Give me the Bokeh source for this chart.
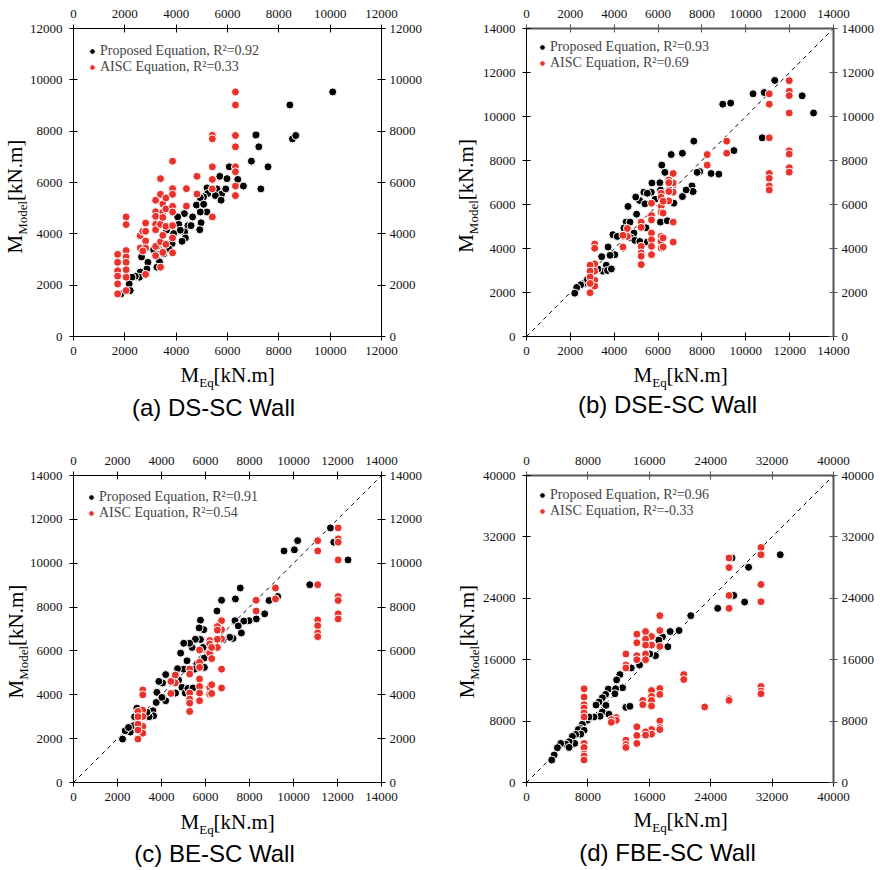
import math
from bokeh.plotting import figure
from bokeh.models import (Range1d, LinearAxis, FixedTicker, Legend,
                          LegendItem, BasicTickFormatter)
from bokeh.core.properties import value
from bokeh.layouts import row, column
from bokeh.embed import file_html
from bokeh.resources import INLINE

# ---------------- data (kN.m) ----------------
a_ticks = [0, 2000, 4000, 6000, 8000, 10000, 12000]
bc_ticks = [0, 2000, 4000, 6000, 8000, 10000, 12000, 14000]
d_ticks = [0, 8000, 16000, 24000, 32000, 40000]

a_prop = [(10100, 9530), (8430, 9020), (8530, 7700), (8660, 7830), (7110, 7850), (7220, 7390),
          (6930, 6830), (7580, 6610), (7300, 5750), (6070, 6610), (6620, 5860), (6400, 6120),
          (5700, 6240), (5980, 6150), (5590, 5750), (5770, 5550), (5530, 5490), (5750, 5310),
          (5930, 5750), (5200, 5790), (5230, 5570), (5070, 5440), (4940, 5410), (4790, 5120),
          (5070, 5150), (5200, 4850), (4940, 4850), (4970, 4430), (4920, 4160), (4640, 4660),
          (4460, 4320), (4320, 4790), (4580, 4320), (4330, 4070), (4360, 3840), (4230, 3710),
          (4060, 4660), (4100, 4370), (4160, 4140), (3900, 4010), (3840, 3620), (3710, 3420),
          (3620, 4140), (3510, 3220), (3380, 3350), (3250, 3490), (3120, 3380), (3350, 2910),
          (3250, 2700), (2900, 2890), (2860, 2630), (2650, 3100), (2600, 2510), (2570, 2310),
          (2410, 2350), (2280, 2310), (2170, 2050), (2210, 1790), (1850, 1660)]
a_aisc = [(1720, 3200), (1720, 2890), (1720, 2560), (1720, 2350), (1720, 2050), (1720, 1660),
          (2050, 4660), (2050, 4360), (2050, 3350), (2050, 3100), (2050, 2890), (2050, 2600),
          (2050, 2310), (2050, 1790), (2600, 3930), (2700, 4100), (2810, 4420), (2810, 4100),
          (2810, 3720), (2600, 3450), (2810, 3450), (2700, 3330), (2810, 2420),
          (3200, 5310), (3200, 4860), (3200, 4680), (3200, 4370), (3200, 4160), (3200, 3510),
          (3200, 3150), (3390, 6150), (3390, 5540), (3390, 4370), (3390, 3690), (3390, 2700),
          (3480, 5160), (3480, 4840), (3480, 4640), (3480, 3940), (3480, 3280),
          (3600, 5400), (3600, 4970), (3600, 4290), (3600, 3590),
          (3860, 6830), (3860, 5760), (3860, 5540), (3860, 5070), (3860, 4850), (3860, 4320),
          (3860, 3840), (3860, 3260), (4400, 5760), (4400, 5080), (4810, 6240), (4810, 5550),
          (5410, 7840), (5410, 7700), (5410, 6610), (5410, 6120), (5410, 5750), (5410, 4660),
          (6310, 9530), (6310, 9020), (6310, 7830), (6310, 7390), (6310, 6610), (6310, 6420),
          (6310, 5860), (6310, 5490)]

b_prop = [(11320, 11640), (10330, 11030), (10840, 11090), (12570, 10940), (13090, 10160),
          (8950, 10560), (9310, 10610), (10750, 9030), (9460, 8450), (7630, 8880), (7110, 8330),
          (6600, 8270), (6170, 7790), (6310, 7460), (7900, 7500), (7780, 7460), (8420, 7410),
          (8770, 7380), (7550, 6840), (7600, 6590), (7280, 6660), (7110, 6360), (6720, 6060),
          (6510, 6660), (6460, 7110), (6080, 6990), (6110, 6650), (5720, 6980), (5690, 6560),
          (5870, 6240), (5350, 6560), (5510, 6510), (5160, 6180), (4980, 6340), (5400, 6030),
          (5020, 5560), (4630, 5910), (4540, 5200), (4720, 5200), (4440, 4930), (4900, 4700),
          (4750, 4490), (4940, 4370), (5170, 4320), (5510, 4290), (5450, 4940), (6110, 5200),
          (6420, 5260), (3940, 4630), (4140, 4550), (3720, 4070), (4030, 3720), (3810, 3690),
          (3430, 3630), (3640, 3240), (3490, 2970), (3690, 3000), (3870, 3070), (3260, 3070),
          (2620, 2410), (2470, 2350), (2290, 2230), (2200, 1970), (2780, 2590), (4410, 4020)]
b_aisc = [(11980, 11630), (11980, 11150), (11980, 10950), (11980, 10160), (11980, 8440),
          (11980, 8290), (11980, 7670), (11980, 7470),
          (11070, 11030), (11070, 10560), (11070, 9030), (11070, 7410), (11070, 7190),
          (11070, 6840), (11070, 6660), (9130, 8880), (9130, 8330), (8240, 8270), (8240, 7790),
          (6690, 7410), (6690, 6980), (6690, 6560), (6690, 5200), (6690, 4290),
          (6490, 7110), (6490, 6990), (6490, 6590), (6490, 6160),
          (6140, 6510), (6140, 6330), (6140, 5910), (6140, 5650), (6140, 4550), (6140, 4320),
          (6140, 4020), (6230, 6150), (6230, 5610), (6230, 4480), (6230, 4070),
          (5700, 6060), (5700, 5500), (5700, 5300), (5700, 4700), (5700, 4400), (5700, 4100),
          (5700, 3720), (5230, 5200), (5230, 4960), (5230, 4100), (5230, 3800), (5230, 3650),
          (5230, 3270), (4600, 4910), (4600, 4550), (4400, 4600), (4400, 4070),
          (3110, 4200), (3110, 4010), (3110, 3300), (3110, 2970), (3110, 2560), (3110, 2290),
          (2900, 3240), (2900, 2970), (2900, 2700), (2900, 2410), (2900, 1990)]

c_prop = [(11680, 11610), (10190, 11030), (10040, 10610), (9570, 10560), (11830, 10960),
          (12480, 10150), (10740, 9020), (9280, 8480), (8890, 8300), (7580, 8870), (7360, 8370),
          (6730, 8310), (6520, 7820), (8690, 7690), (8310, 7460), (7980, 7380), (7740, 7360),
          (7340, 7380), (7490, 7140), (7630, 6820), (7250, 6570), (7100, 6620), (6800, 6510),
          (5920, 6970), (5770, 7400), (5710, 7050), (5770, 6520), (5540, 6530), (5890, 6160),
          (5390, 6160), (5280, 6350), (5010, 6350), (4870, 5900), (5160, 5550), (5950, 5680),
          (5950, 5250), (5610, 5400), (5510, 5170), (5010, 5170), (4730, 5190), (4550, 4720),
          (4780, 4670), (4930, 4340), (5080, 4080), (5200, 4290), (5430, 4310), (4640, 4080),
          (4190, 4920), (4050, 4540), (3880, 4610), (3790, 4110), (3760, 3650), (4190, 3730),
          (4020, 3880), (3610, 3270), (3640, 3040), (3440, 3000), (3340, 3200), (3110, 3200),
          (2880, 3390), (2780, 3000), (2730, 2590), (2580, 2300), (2350, 2360), (2500, 2510),
          (2230, 1980)]
c_aisc = [(12030, 11610), (12030, 11110), (12030, 10960), (12030, 10150), (12030, 8480),
          (12030, 8300), (12030, 7690), (12030, 7460),
          (11100, 11030), (11100, 10560), (11100, 9020), (11100, 7410), (11100, 7150),
          (11100, 6820), (11100, 6650), (9180, 8870), (9180, 8370), (8300, 8310), (8300, 7820),
          (6730, 7380), (6730, 6970), (6730, 6550), (6730, 5170), (6730, 4310),
          (6540, 7110), (6540, 6950), (6540, 6530), (6540, 6160),
          (6190, 6470), (6190, 6320), (6190, 5900), (6190, 4340), (6190, 4030),
          (6280, 6160), (6280, 5650), (6280, 4460), (6280, 4060),
          (5730, 6040), (5730, 5480), (5730, 5250), (5730, 4720), (5730, 4380), (5730, 4080),
          (5730, 3730), (5280, 5170), (5280, 4950), (5280, 4080), (5280, 3800), (5280, 3620),
          (5280, 3240), (4630, 4900), (4630, 4540), (4430, 4610), (4430, 4060),
          (3150, 4220), (3150, 4000), (3150, 3300), (3150, 3010), (3150, 2560), (3150, 2250),
          (2930, 3240), (2930, 3000), (2930, 2660), (2930, 2390), (2930, 1980)]

d_prop = [(33060, 29680), (28940, 28040), (26780, 29250), (27000, 24370), (28420, 23510),
          (24910, 22690), (21400, 21740), (19880, 19800), (18720, 19670), (17720, 18980),
          (17240, 18550), (18420, 17690), (16810, 16520), (16070, 16740), (15510, 15960),
          (14730, 15310), (13650, 14930), (12170, 14060), (11740, 13370), (12520, 12340),
          (10660, 12170), (11610, 12210), (11520, 11560), (10310, 11480), (9880, 11040),
          (9450, 10480), (9060, 10090), (10350, 10050), (9880, 9190), (9580, 8630),
          (10740, 8890), (8800, 8540), (12950, 9790), (13470, 9920), (7930, 8110),
          (7280, 7590), (7070, 7030), (6760, 6900), (7500, 6800), (7070, 6300), (6410, 6260),
          (5980, 6000), (6280, 5090), (5550, 5310), (5110, 5000), (5550, 4570), (4460, 5090),
          (4030, 4530), (3600, 3580), (3290, 2930), (8140, 8540)]
d_aisc = [(26390, 29250), (26390, 28000), (26390, 24370), (26390, 22690), (26390, 10910),
          (26390, 10700), (30550, 30630), (30550, 29680), (30550, 25800), (30550, 23550),
          (30550, 12510), (30550, 11910), (30550, 11560), (23220, 9840), (20490, 14060),
          (20490, 13420), (17370, 21740), (17370, 19800), (17370, 17730), (17370, 12250),
          (17370, 11480), (17370, 8020), (17370, 7160), (17370, 6900),
          (16290, 19020), (16290, 17900), (16290, 11990), (16290, 11220), (16290, 10700),
          (16290, 9960), (16290, 6900), (16290, 6300),
          (15510, 19670), (15510, 18680), (15510, 17900), (15510, 16740), (15510, 16000),
          (15510, 6600), (15510, 6170), (15160, 10700), (15160, 10140),
          (14380, 19330), (14380, 18210), (14380, 16520), (14380, 16000), (14380, 7250),
          (14380, 6130), (14380, 5090), (12950, 16740), (12950, 15310), (12950, 14930),
          (12950, 5520), (12950, 4960), (12950, 4570), (11700, 8460), (11700, 8110),
          (11050, 8200), (11050, 7850),
          (7500, 12210), (7500, 11130), (7500, 10140), (7500, 9710), (7500, 9060),
          (7500, 8540), (7500, 5090), (7500, 4570), (7500, 3710), (7500, 3450), (7500, 2930)]

a_r2 = ["0.92", "0.33"]
b_r2 = ["0.93", "0.69"]
c_r2 = ["0.91", "0.54"]
d_r2 = ["0.96", "-0.33"]

bc_diag = [0, 14000]
d_diag = [0, 40000]

titles = ["(a) DS-SC Wall", "(b) DSE-SC Wall", "(c) BE-SC Wall", "(d) FBE-SC Wall"]

# ---------------- styling ----------------
SERIF = "Liberation Serif"
SANS = "Liberation Sans"
RED = "#E8322B"
W, H = 440, 435
BASE_SHIFT = 0.32  # baseline compensation, in em


def unzip(pairs):
    return [q[0] for q in pairs], [q[1] for q in pairs]


def style_axis(ax, ticks, color, width, standoff):
    ax.ticker = FixedTicker(ticks=ticks, minor_ticks=[])
    ax.formatter = BasicTickFormatter(use_scientific=False)
    ax.major_tick_in = 4
    ax.major_tick_out = 4
    ax.minor_tick_in = 0
    ax.minor_tick_out = 0
    ax.axis_line_color = color
    ax.axis_line_width = width
    ax.major_tick_line_color = color
    ax.major_tick_line_width = 1
    ax.major_label_text_font = SERIF
    ax.major_label_text_font_size = "13px"
    ax.major_label_text_color = "#111111"
    ax.major_label_standoff = standoff


def make_panel(title, vmax, ticks, prop, aisc, r2, diag, borders, grey, ylab, xlab, tpos, leg):
    bl, br, bt, bb = borders
    fw = W - bl - br
    fh = H - bt - bb
    p = figure(width=W, height=H, x_range=Range1d(0, vmax), y_range=Range1d(0, vmax),
               output_backend="svg", toolbar_location=None,
               min_border_left=bl, min_border_right=br, min_border_top=bt,
               min_border_bottom=bb)
    p.grid.visible = False
    p.outline_line_color = None
    p.background_fill_color = "white"
    p.border_fill_color = "white"

    top_ax = LinearAxis()
    right_ax = LinearAxis()
    p.add_layout(top_ax, "above")
    p.add_layout(right_ax, "right")
    oc, ow = ("#555555", 2) if grey else ("black", 1)
    style_axis(p.below[0], ticks, "black", 1, 6)
    style_axis(p.left[0], ticks, "black", 1, 7)
    style_axis(top_ax, ticks, oc, ow, 7)
    style_axis(right_ax, ticks, oc, ow, 4)

    if diag is not None:
        p.line(diag, diag, line_color="black", line_width=1, line_dash="4 4")

    px, py = unzip(prop)
    ax_, ay_ = unzip(aisc)
    r1 = p.scatter(px, py, size=8, fill_color="black", line_color="white", line_width=1)
    r2r = p.scatter(ax_, ay_, size=8, fill_color=RED, line_color="white", line_width=1)

    legend = Legend(items=[LegendItem(label=f"Proposed Equation, R\u00b2={r2[0]}", renderers=[r1]),
                           LegendItem(label=f"AISC Equation, R\u00b2={r2[1]}", renderers=[r2r])],
                    location=leg, border_line_color=None, background_fill_alpha=0,
                    label_text_font=SERIF, label_text_font_size="14px",
                    glyph_width=14, glyph_height=14, label_height=14, label_standoff=1,
                    spacing=0, padding=6, margin=0)
    p.add_layout(legend)

    # helper: text placed at pixel offsets from the frame's bottom-left corner
    def put(text, rx, ry, size, font=SERIF, rotated=False, align="left"):
        if rotated:
            rx -= BASE_SHIFT * size
        else:
            ry += BASE_SHIFT * size
        p.text(x=[rx / fw * vmax], y=[ry / fh * vmax], text=[text],
               text_font=value(font), text_font_size=value(f"{size}px"),
               angle=(math.pi / 2 if rotated else 0.0), text_align=align,
               text_baseline="alphabetic", text_color="black", level="overlay")

    # y-axis label  M_Model[kN.m] (rotated)
    yx, yy = ylab
    put("M", yx, yy, 21, rotated=True)
    put("Model", yx + 5, yy + 18.7, 13, rotated=True)
    put("[kN.m]", yx, yy + 18.7 + 33.9, 21, rotated=True)
    # x-axis label M_Eq[kN.m]
    xx, xy = xlab
    put("M", xx, xy, 21)
    put("Eq", xx + 18.7, xy - 5, 13)
    put("[kN.m]", xx + 18.7 + 14.4, xy, 21)
    # panel caption
    put(title, tpos[0], tpos[1], 24, font=SANS, align="center")
    return p


pa = make_panel(titles[0], 12000, a_ticks, a_prop, a_aisc, a_r2, None,
                (73, 59, 28, 99), False, (-52, 83), (107, -45), (140, -79), (12, 261))
pb = make_panel(titles[1], 14000, bc_ticks, b_prop, b_aisc, b_r2, bc_diag,
                (86, 47, 28, 98), True, (-54, 84), (107, -45), (141, -76), (9, 265))
pc = make_panel(titles[2], 14000, bc_ticks, c_prop, c_aisc, c_r2, bc_diag,
                (73, 59, 40, 88), False, (-51, 84), (107, -46), (141, -79), (11, 261))
pd = make_panel(titles[3], 40000, d_ticks, d_prop, d_aisc, d_r2, d_diag,
                (86, 47, 38, 87), True, (-53, 85), (107, -45), (141, -78), (9, 263))

layout = column(row(pa, pb), row(pc, pd))
open("out.html", "w").write(file_html(layout, INLINE))
